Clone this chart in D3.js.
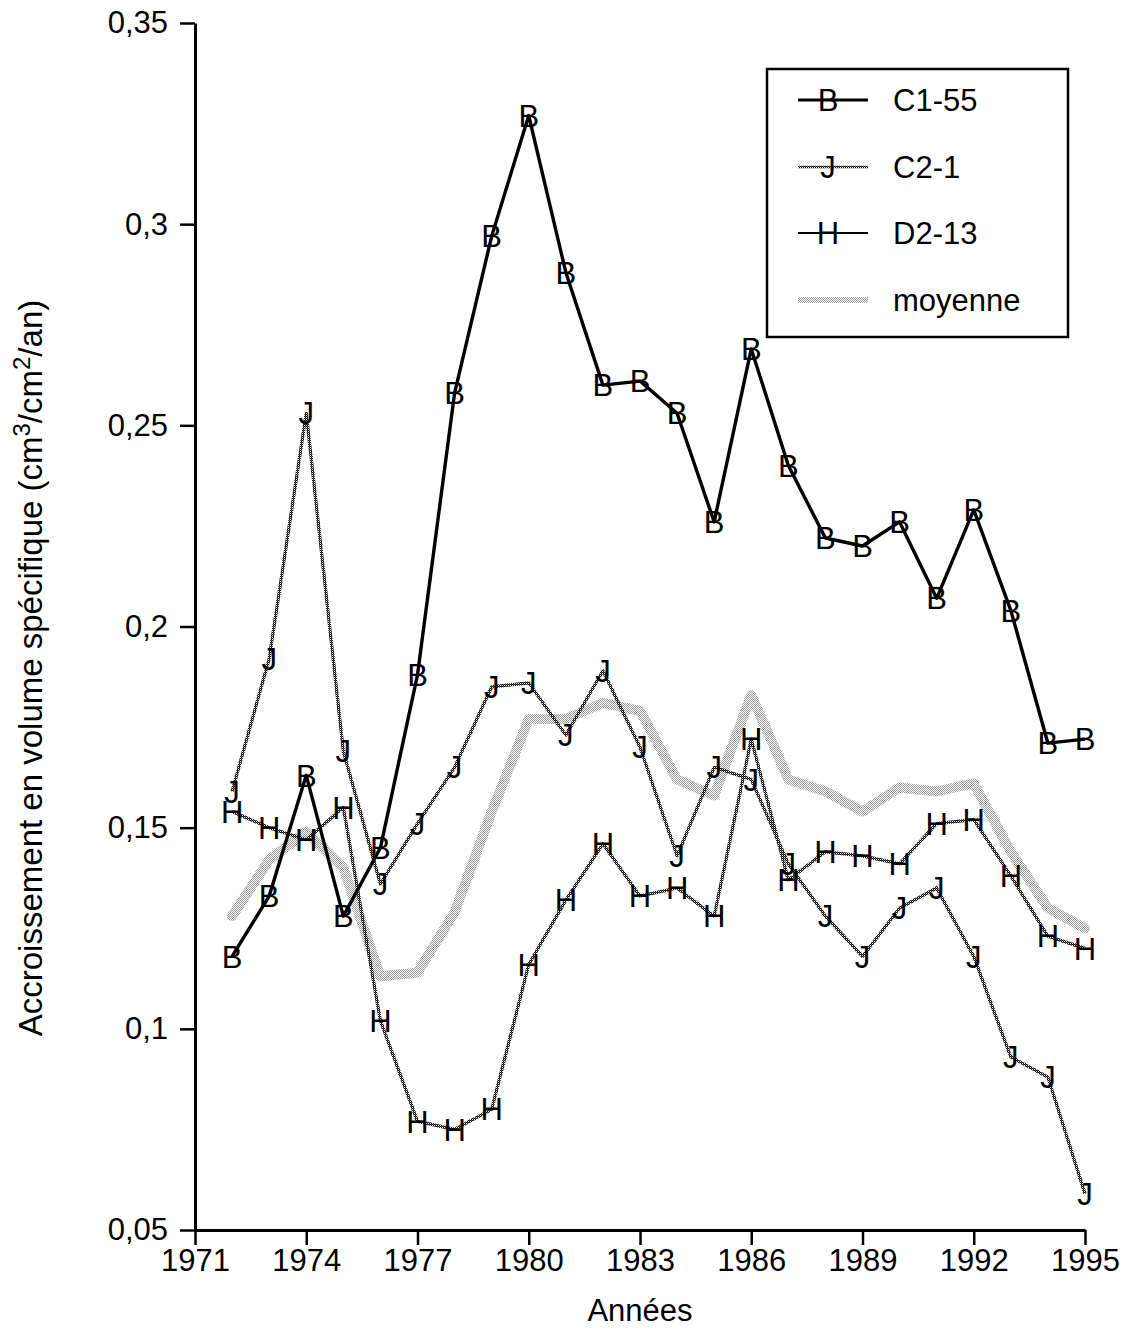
<!DOCTYPE html>
<html>
<head>
<meta charset="utf-8">
<script src="https://cdn.jsdelivr.net/npm/d3@7"></script>
<style>
  body { margin: 0; background: #fff; }
  svg { display: block; }
  text { font-family: "Liberation Sans", Arial, Helvetica, sans-serif; fill: #000; }
</style>
</head>
<body>
<svg id="chart" width="1131" height="1332"></svg>
<script>
// Years of measurement
const years = [1972, 1973, 1974, 1975, 1976, 1977, 1978, 1979, 1980, 1981, 1982, 1983,
               1984, 1985, 1986, 1987, 1988, 1989, 1990, 1991, 1992, 1993, 1994, 1995];

// Specific volume increment (cm3/cm2/yr) per core
const c155 = [0.118, 0.133, 0.163, 0.128, 0.145, 0.188, 0.258, 0.297, 0.327, 0.288, 0.260, 0.261,
              0.253, 0.226, 0.269, 0.240, 0.222, 0.220, 0.226, 0.207, 0.229, 0.204, 0.171, 0.172];
const c21  = [0.159, 0.192, 0.253, 0.169, 0.136, 0.151, 0.165, 0.185, 0.186, 0.173, 0.189, 0.170,
              0.143, 0.165, 0.162, 0.141, 0.128, 0.118, 0.130, 0.135, 0.118, 0.093, 0.088, 0.059];
const d213 = [0.154, 0.150, 0.147, 0.155, 0.102, 0.077, 0.075, 0.080, 0.116, 0.132, 0.146, 0.133,
              0.135, 0.128, 0.172, 0.137, 0.144, 0.143, 0.141, 0.151, 0.152, 0.138, 0.123, 0.120];
const moyenne = [0.128, 0.142, 0.149, 0.140, 0.113, 0.114, 0.129, 0.154, 0.177, 0.177, 0.181, 0.179,
                 0.162, 0.158, 0.183, 0.162, 0.159, 0.154, 0.160, 0.159, 0.161, 0.144, 0.130, 0.125];

const seriesNames = ["C1-55", "C2-1", "D2-13", "moyenne"];
const markerLetters = ["B", "J", "H"];

// Axis ticks
const xTickValues = [1971, 1974, 1977, 1980, 1983, 1986, 1989, 1992, 1995];
const yTickValues = [0.05, 0.1, 0.15, 0.2, 0.25, 0.3, 0.35];
const yTickLabels = ["0,05", "0,1", "0,15", "0,2", "0,25", "0,3", "0,35"];

const FONT = '"Liberation Sans", Arial, Helvetica, sans-serif';
const svg = d3.select("#chart");

const x = d3.scaleLinear().domain([1971, 1995]).range([195, 1085]);
const y = d3.scaleLinear().domain([0.05, 0.35]).range([1230, 23]);

// Halftone fills: light stipple for the mean, dark screen for the dotted series
const defs = svg.append("defs");
const stip = defs.append("pattern").attr("id", "stipple")
  .attr("width", 2).attr("height", 2).attr("patternUnits", "userSpaceOnUse");
stip.append("rect").attr("x", 0).attr("y", 0).attr("width", 1).attr("height", 1).attr("fill", "#999");
stip.append("rect").attr("x", 1).attr("y", 1).attr("width", 1).attr("height", 1).attr("fill", "#999");

const screen = defs.append("pattern").attr("id", "screen")
  .attr("width", 2).attr("height", 2).attr("patternUnits", "userSpaceOnUse");
screen.append("rect").attr("x", 0).attr("y", 0).attr("width", 1).attr("height", 1).attr("fill", "#000");
screen.append("rect").attr("x", 1).attr("y", 1).attr("width", 1).attr("height", 1).attr("fill", "#000");
screen.append("rect").attr("x", 1).attr("y", 0).attr("width", 1).attr("height", 1).attr("fill", "#555");

const line = d3.line().x((d, i) => x(years[i])).y(d => y(d));

// Mean curve (wide stippled band)
svg.append("path").datum(moyenne)
  .attr("d", line).attr("fill", "none")
  .attr("stroke", "url(#stipple)").attr("stroke-width", 10)
  .attr("stroke-linejoin", "round").attr("stroke-linecap", "round");

// Dotted series
[d213, c21].forEach(s => {
  svg.append("path").datum(s)
    .attr("d", line).attr("fill", "none")
    .attr("stroke", "url(#screen)").attr("stroke-width", 3.2)
    .attr("stroke-linejoin", "round");
});

// Solid series
svg.append("path").datum(c155)
  .attr("d", line).attr("fill", "none")
  .attr("stroke", "#000").attr("stroke-width", 3.4)
  .attr("stroke-linejoin", "round");

// Letter markers
[[c155, "B"], [c21, "J"], [d213, "H"]].forEach(([s, letter]) => {
  svg.append("g").selectAll("text").data(s).join("text")
    .attr("x", (d, i) => x(years[i]))
    .attr("y", d => y(d))
    .attr("dy", "0.36em")
    .attr("text-anchor", "middle")
    .attr("font-size", 31)
    .text(letter);
});

// Axes
const yAxis = d3.axisLeft(y).tickValues(yTickValues)
  .tickFormat((d, i) => yTickLabels[i])
  .tickSize(15).tickSizeOuter(0).tickPadding(12);
const gy = svg.append("g").attr("transform", "translate(195,0)").call(yAxis);

const xAxis = d3.axisBottom(x).tickValues(xTickValues)
  .tickFormat(d3.format("d"))
  .tickSize(15).tickSizeOuter(0).tickPadding(4);
const gx = svg.append("g").attr("transform", "translate(0,1230)").call(xAxis);

[gx, gy].forEach(g => {
  g.attr("font-family", FONT).attr("font-size", 31);
  g.select(".domain").attr("stroke", "#000").attr("stroke-width", 3);
  g.selectAll(".tick line").attr("stroke", "#000").attr("stroke-width", 2.5);
  g.selectAll(".tick text").attr("fill", "#000");
});

// Axis titles
svg.append("text")
  .attr("x", 640).attr("y", 1321)
  .attr("text-anchor", "middle").attr("font-size", 31)
  .text("Années");

const yTitle = svg.append("text")
  .attr("transform", "translate(42,668) rotate(-90)")
  .attr("text-anchor", "middle").attr("font-size", 33);
yTitle.append("tspan").text("Accroissement en volume spécifique (cm");
yTitle.append("tspan").attr("font-size", 24).attr("dy", -12).text("3");
yTitle.append("tspan").attr("dy", 12).text("/cm");
yTitle.append("tspan").attr("font-size", 24).attr("dy", -12).text("2");
yTitle.append("tspan").attr("dy", 12).text("/an)");

// Legend
const legend = svg.append("g");
legend.append("rect")
  .attr("x", 767).attr("y", 69).attr("width", 301).attr("height", 268)
  .attr("fill", "#fff").attr("stroke", "#000").attr("stroke-width", 2.5);

const rowY = [100, 167, 233, 300];
const sampleStroke = ["#000", "url(#screen)", "#000", "url(#stipple)"];
const sampleWidth = [3, 2.5, 2.2, 6];
seriesNames.forEach((name, i) => {
  legend.append("line")
    .attr("x1", 798).attr("x2", 868)
    .attr("y1", rowY[i]).attr("y2", rowY[i])
    .attr("stroke", sampleStroke[i]).attr("stroke-width", sampleWidth[i]);
  if (i < markerLetters.length) {
    legend.append("text")
      .attr("x", 828).attr("y", rowY[i]).attr("dy", "0.36em")
      .attr("text-anchor", "middle").attr("font-size", 31)
      .text(markerLetters[i]);
  }
  legend.append("text")
    .attr("x", 893).attr("y", rowY[i]).attr("dy", "0.36em")
    .attr("font-size", 31)
    .text(name);
});
</script>
</body>
</html>
